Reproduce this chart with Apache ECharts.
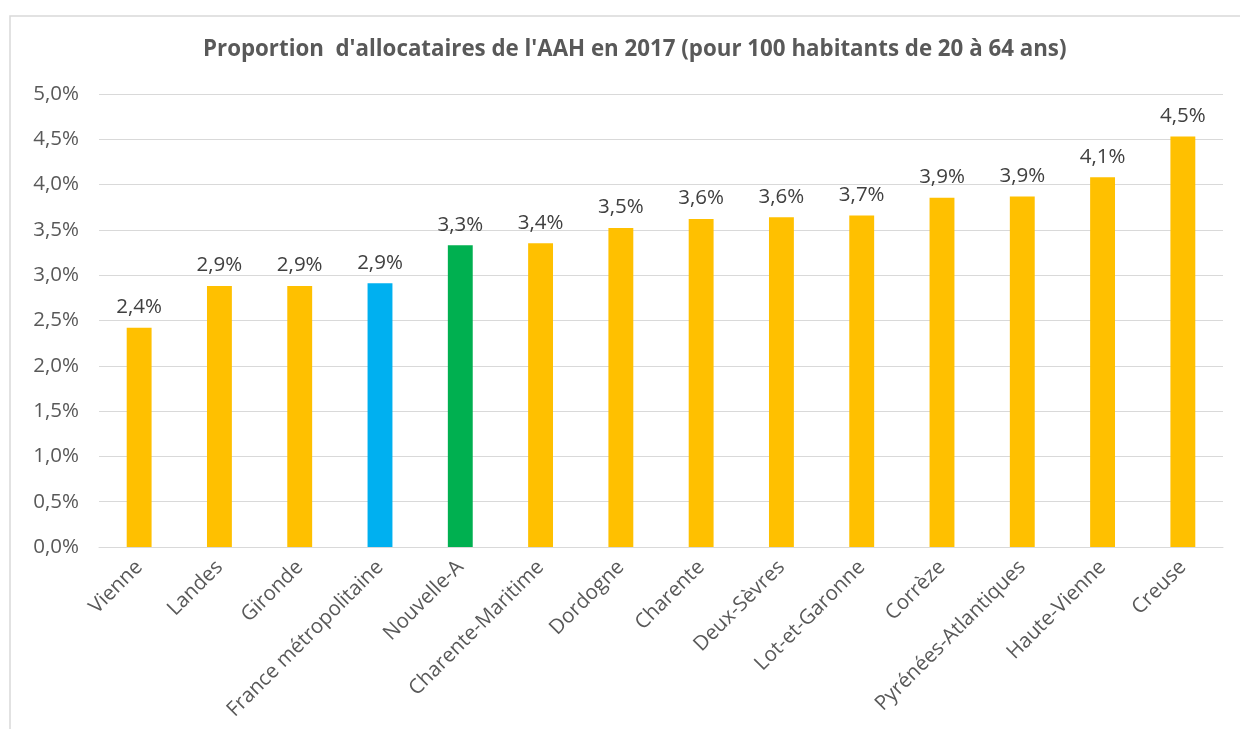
<!DOCTYPE html>
<html><head><meta charset="utf-8">
<script src="https://cdn.jsdelivr.net/npm/echarts@6/dist/echarts.min.js"></script>
<style>html,body{margin:0;padding:0;background:#fff}#c{width:1240px;height:729px}</style>
</head><body><div id="c"></div>
<script>
const titleText = "Proportion  d'allocataires de l'AAH en 2017 (pour 100 habitants de 20 à 64 ans)";
const categories = ["Vienne","Landes","Gironde","France métropolitaine","Nouvelle-A","Charente-Maritime","Dordogne","Charente","Deux-Sèvres","Lot-et-Garonne","Corrèze","Pyrénées-Atlantiques","Haute-Vienne","Creuse"];
const values = [2.42, 2.88, 2.88, 2.91, 3.33, 3.352, 3.52, 3.62, 3.64, 3.66, 3.855, 3.87, 4.08, 4.53];
const barColors = ["#FFC000","#FFC000","#FFC000","#00B0F0","#00B050","#FFC000","#FFC000","#FFC000","#FFC000","#FFC000","#FFC000","#FFC000","#FFC000","#FFC000"];
const FONT = "'Open Sans', sans-serif";
const fmt = v => v.toFixed(1).replace('.', ',') + '%';
const chart = echarts.init(document.getElementById('c'), null, {renderer:'canvas'});
chart.setOption({
  animation:false,
  backgroundColor:'#fff',
  graphic:[{type:'rect', shape:{x:10,y:16,width:1240,height:730}, style:{fill:'none', stroke:'#d9d9d9', lineWidth:1.5}, silent:true}],
  title:{text:titleText, left:198, top:34, textStyle:{fontFamily:FONT, fontWeight:'bold', fontSize:22.3, color:'#595959'}},
  grid:{left:99, right:17, top:94, bottom:182, containLabel:false},
  xAxis:{type:'category', data:categories,
    axisLine:{lineStyle:{color:'#d9d9d9', width:1}}, axisTick:{show:false},
    axisLabel:{rotate:45, interval:0, fontFamily:FONT, fontSize:20.5, color:'#595959', margin:17}},
  yAxis:{type:'value', min:0, max:5, interval:0.5,
    axisLine:{show:false}, axisTick:{show:false},
    splitLine:{lineStyle:{color:'#d9d9d9', width:1}},
    axisLabel:{formatter:v=>fmt(v), fontFamily:FONT, fontSize:20.5, color:'#595959', margin:20}},
  series:[{type:'bar', data:values.map((v,i)=>({value:v, itemStyle:{color:barColors[i]}})),
    barWidth:'31%',
    label:{show:true, position:'top', distance:10, formatter:p=>fmt(p.value), fontFamily:FONT, fontSize:20.5, color:'#404040'}}]
});
</script></body></html>
